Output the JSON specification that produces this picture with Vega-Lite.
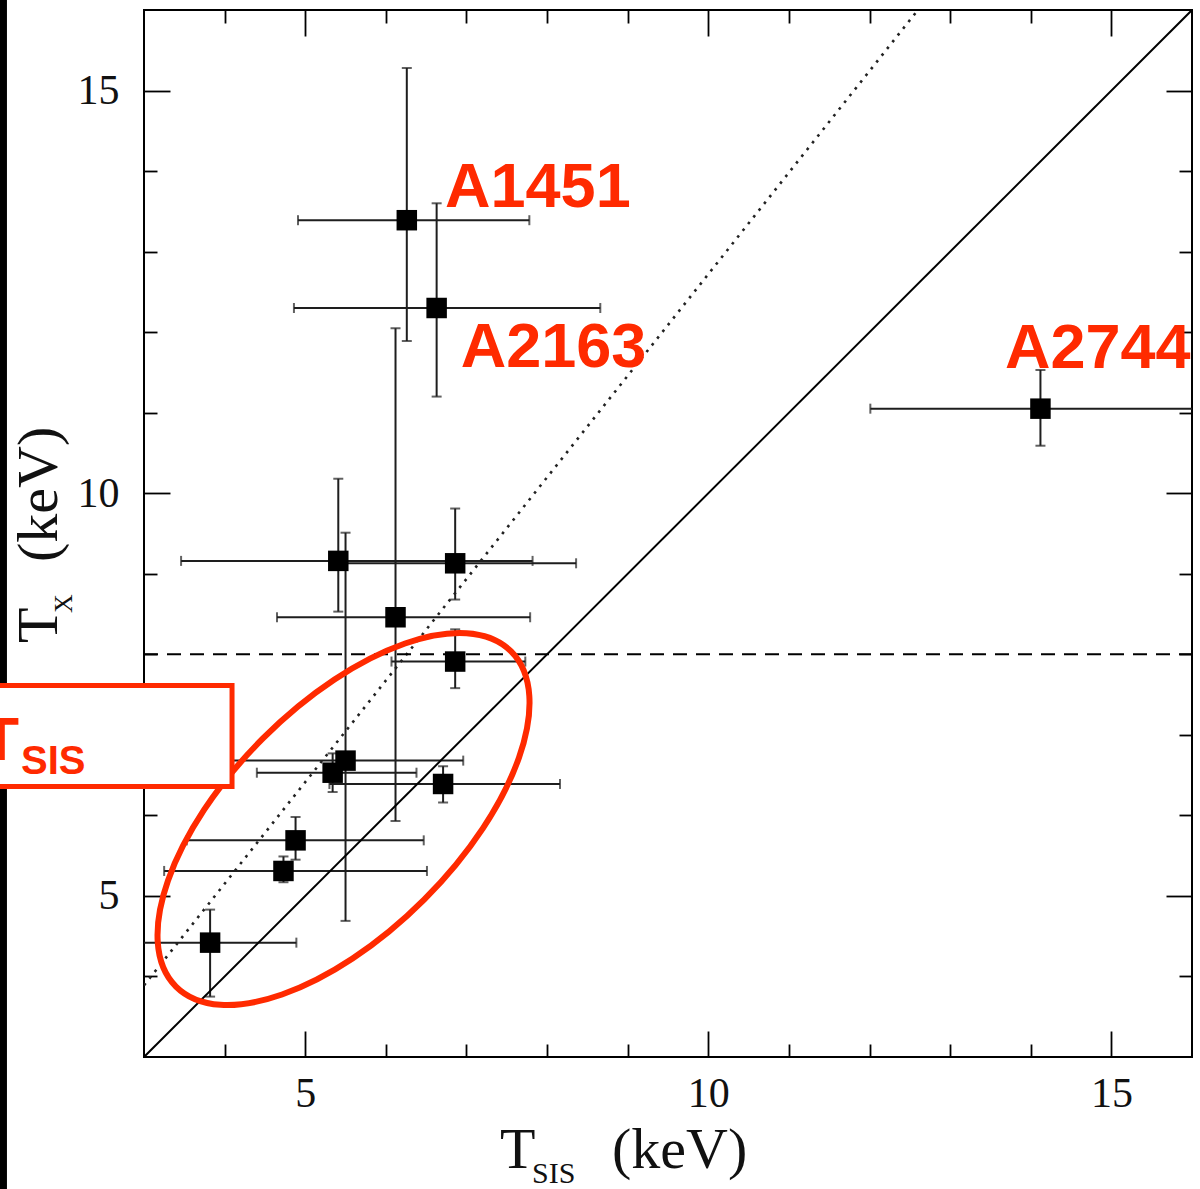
{
  "$schema": "https://vega.github.io/schema/vega-lite/v6.json",
  "width": 1048,
  "height": 1047,
  "autosize": {"type": "none"},
  "padding": {"left": 144, "top": 10, "right": 8, "bottom": 132},
  "background": "white",
  "config": {
    "view": {"stroke": "black", "strokeWidth": 2},
    "axis": {"grid": false, "domain": false, "tickColor": "black", "tickWidth": 1.8, "labelFont": "Liberation Serif", "labelFontSize": 42, "labelColor": "#111111"}
  },
  "resolve": {"axis": {"x": "independent", "y": "independent"}},
  "datasets": {
    "points": [
      {"name": "A1451", "x": 6.26, "y": 13.39, "xlo": 4.91, "xhi": 7.78, "ylo": 11.89, "yhi": 15.28},
      {"name": "A2163", "x": 6.63, "y": 12.30, "xlo": 4.86, "xhi": 8.66, "ylo": 11.20, "yhi": 13.60},
      {"name": "A2744", "x": 14.12, "y": 11.05, "xlo": 12.01, "xhi": 16.2, "ylo": 10.59, "yhi": 11.53},
      {"name": "c4", "x": 5.41, "y": 9.16, "xlo": 3.46, "xhi": 7.82, "ylo": 8.53, "yhi": 10.18},
      {"name": "c5", "x": 5.50, "y": 6.68, "xlo": 4.04, "xhi": 6.96, "ylo": 4.69, "yhi": 9.51},
      {"name": "c6", "x": 6.86, "y": 9.13, "xlo": 5.36, "xhi": 8.36, "ylo": 8.68, "yhi": 9.81},
      {"name": "c7", "x": 6.12, "y": 8.46, "xlo": 4.65, "xhi": 7.79, "ylo": 5.93, "yhi": 12.05},
      {"name": "c8", "x": 6.86, "y": 7.91, "xlo": 6.07, "xhi": 7.73, "ylo": 7.58, "yhi": 8.31},
      {"name": "c9", "x": 5.34, "y": 6.53, "xlo": 4.40, "xhi": 6.38, "ylo": 6.29, "yhi": 6.77},
      {"name": "c10", "x": 6.71, "y": 6.39, "xlo": 5.30, "xhi": 8.16, "ylo": 6.16, "yhi": 6.61},
      {"name": "c11", "x": 4.88, "y": 5.69, "xlo": 3.53, "xhi": 6.47, "ylo": 5.45, "yhi": 5.98},
      {"name": "c12", "x": 4.73, "y": 5.31, "xlo": 3.25, "xhi": 6.51, "ylo": 5.17, "yhi": 5.49},
      {"name": "c13", "x": 3.82, "y": 4.42, "xlo": 2.75, "xhi": 4.89, "ylo": 3.75, "yhi": 4.83}
    ],
    "diag": [{"x": 3, "y": 3}, {"x": 16, "y": 16}],
    "dotted": [{"x": 3, "y": 3.89}, {"x": 12.6, "y": 16}],
    "dashed": [{"x": 3, "y": 8}, {"x": 16, "y": 8}],
    "ellipse": [{"x": 5.475, "y": 5.955}],
    "box": [{"x1": 1.0, "x2": 4.092, "y1": 6.359, "y2": 7.612}],
    "bar": [{"x1": 0.5, "x2": 1.30, "y1": 0.5, "y2": 17.5}],
    "redlabels": [
      {"t": "A1451", "x": 6.734, "y": 13.554},
      {"t": "A2163", "x": 6.929, "y": 11.571},
      {"t": "A2744", "x": 13.68, "y": 11.551}
    ],
    "boxT": [{"t": "T", "x": 1.219, "y": 6.688}],
    "boxSub": [{"t": "SIS", "x": 1.474, "y": 6.514}],
    "xtitle": [{"t": "T", "x": 7.416, "y": 1.62}, {"t": "(keV)", "x": 8.805, "y": 1.62}],
    "xsub": [{"t": "SIS", "x": 7.813, "y": 1.44}],
    "ytitle": [{"t": "T", "x": 1.921, "y": 8.140}, {"t": "(keV)", "x": 1.921, "y": 9.146}],
    "ysub": [{"t": "X", "x": 2.107, "y": 8.513}]
  },
  "layer": [
    {
      "data": {"name": "points"},
      "mark": {"type": "rule", "color": "#1e1e1e", "strokeWidth": 2, "clip": true},
      "encoding": {
        "x": {"field": "xlo", "type": "quantitative", "scale": {"domain": [3, 16], "nice": false, "zero": false},
              "axis": {"orient": "bottom", "values": [5, 10, 15], "ticks": false, "labelPadding": 16, "title": null}},
        "x2": {"field": "xhi"},
        "y": {"field": "y", "type": "quantitative", "scale": {"domain": [3, 16], "nice": false, "zero": false},
              "axis": {"orient": "left", "values": [5, 10, 15], "ticks": false, "labelPadding": 25, "title": null}}
      }
    },
    {
      "data": {"name": "points"},
      "mark": {"type": "rule", "color": "#1e1e1e", "strokeWidth": 2, "clip": true},
      "encoding": {
        "x": {"field": "x", "type": "quantitative", "scale": {"domain": [3, 16], "nice": false, "zero": false},
              "axis": {"orient": "bottom", "values": [4, 6, 7, 8, 9, 11, 12, 13, 14], "labels": false, "tickSize": -13, "title": null}},
        "y": {"field": "ylo", "type": "quantitative", "scale": {"domain": [3, 16], "nice": false, "zero": false},
              "axis": {"orient": "left", "values": [4, 6, 7, 8, 9, 11, 12, 13, 14], "labels": false, "tickSize": -13, "title": null}},
        "y2": {"field": "yhi"}
      }
    },
    {
      "data": {"name": "points"},
      "transform": [{"fold": ["xlo", "xhi"], "as": ["end", "xv"]}],
      "mark": {"type": "tick", "orient": "vertical", "color": "#1e1e1e", "size": 10, "thickness": 2, "clip": true},
      "encoding": {
        "x": {"field": "xv", "type": "quantitative", "scale": {"domain": [3, 16], "nice": false, "zero": false},
              "axis": {"orient": "bottom", "values": [5, 10, 15], "labels": false, "tickSize": -26, "title": null}},
        "y": {"field": "y", "type": "quantitative", "scale": {"domain": [3, 16], "nice": false, "zero": false},
              "axis": {"orient": "left", "values": [5, 10, 15], "labels": false, "tickSize": -26, "title": null}}
      }
    },
    {
      "data": {"name": "points"},
      "transform": [{"fold": ["ylo", "yhi"], "as": ["end", "yv"]}],
      "mark": {"type": "tick", "orient": "horizontal", "color": "#1e1e1e", "size": 10, "thickness": 2, "clip": true},
      "encoding": {
        "x": {"field": "x", "type": "quantitative", "scale": {"domain": [3, 16], "nice": false, "zero": false},
              "axis": {"orient": "top", "values": [4, 6, 7, 8, 9, 11, 12, 13, 14], "labels": false, "tickSize": -13, "title": null}},
        "y": {"field": "yv", "type": "quantitative", "scale": {"domain": [3, 16], "nice": false, "zero": false},
              "axis": {"orient": "right", "values": [4, 6, 7, 8, 9, 11, 12, 13, 14], "labels": false, "tickSize": -13, "title": null}}
      }
    },
    {
      "data": {"name": "points"},
      "mark": {"type": "point", "shape": "square", "size": 420, "filled": true, "color": "black", "opacity": 1, "clip": true},
      "encoding": {
        "x": {"field": "x", "type": "quantitative", "scale": {"domain": [3, 16], "nice": false, "zero": false},
              "axis": {"orient": "top", "values": [5, 10, 15], "labels": false, "tickSize": -26, "title": null}},
        "y": {"field": "y", "type": "quantitative", "scale": {"domain": [3, 16], "nice": false, "zero": false},
              "axis": {"orient": "right", "values": [5, 10, 15], "labels": false, "tickSize": -26, "title": null}}
      }
    },
    {
      "data": {"name": "diag"},
      "mark": {"type": "line", "color": "black", "strokeWidth": 2, "clip": true},
      "encoding": {
        "x": {"field": "x", "type": "quantitative", "scale": {"domain": [3, 16], "nice": false, "zero": false}, "axis": null},
        "y": {"field": "y", "type": "quantitative", "scale": {"domain": [3, 16], "nice": false, "zero": false}, "axis": null}
      }
    },
    {
      "data": {"name": "dotted"},
      "mark": {"type": "line", "color": "#222222", "strokeWidth": 2.6, "strokeDash": [2.6, 6], "clip": true},
      "encoding": {
        "x": {"field": "x", "type": "quantitative", "scale": {"domain": [3, 16], "nice": false, "zero": false}, "axis": null},
        "y": {"field": "y", "type": "quantitative", "scale": {"domain": [3, 16], "nice": false, "zero": false}, "axis": null}
      }
    },
    {
      "data": {"name": "dashed"},
      "mark": {"type": "line", "color": "black", "strokeWidth": 2, "strokeDash": [14, 9], "clip": true},
      "encoding": {
        "x": {"field": "x", "type": "quantitative", "scale": {"domain": [3, 16], "nice": false, "zero": false}, "axis": null},
        "y": {"field": "y", "type": "quantitative", "scale": {"domain": [3, 16], "nice": false, "zero": false}, "axis": null}
      }
    },
    {
      "data": {"name": "redlabels"},
      "mark": {"type": "text", "color": "#ff2a00", "font": "Liberation Sans", "fontWeight": "bold", "fontSize": 63, "align": "left", "baseline": "alphabetic", "clip": false},
      "encoding": {
        "text": {"field": "t"},
        "x": {"field": "x", "type": "quantitative", "scale": {"domain": [3, 16], "nice": false, "zero": false}, "axis": null},
        "y": {"field": "y", "type": "quantitative", "scale": {"domain": [3, 16], "nice": false, "zero": false}, "axis": null}
      }
    },
    {
      "data": {"name": "ellipse"},
      "mark": {"type": "point", "shape": "M 1 0 C 1 0.2657 0.5523 0.481 0 0.481 C -0.5523 0.481 -1 0.2657 -1 0 C -1 -0.2657 -0.5523 -0.481 0 -0.481 C 0.5523 -0.481 1 -0.2657 1 0 Z", "size": 224676, "angle": 315, "filled": false, "stroke": "#ff2a00", "strokeWidth": 6, "opacity": 1, "clip": false},
      "encoding": {
        "x": {"field": "x", "type": "quantitative", "scale": {"domain": [3, 16], "nice": false, "zero": false}, "axis": null},
        "y": {"field": "y", "type": "quantitative", "scale": {"domain": [3, 16], "nice": false, "zero": false}, "axis": null}
      }
    },
    {
      "data": {"name": "bar"},
      "mark": {"type": "rect", "fill": "black", "clip": false},
      "encoding": {
        "x": {"field": "x1", "type": "quantitative", "scale": {"domain": [3, 16], "nice": false, "zero": false}, "axis": null},
        "x2": {"field": "x2"},
        "y": {"field": "y1", "type": "quantitative", "scale": {"domain": [3, 16], "nice": false, "zero": false}, "axis": null},
        "y2": {"field": "y2"}
      }
    },
    {
      "data": {"name": "box"},
      "mark": {"type": "rect", "fill": "white", "stroke": "#ff2a00", "strokeWidth": 5, "clip": false},
      "encoding": {
        "x": {"field": "x1", "type": "quantitative", "scale": {"domain": [3, 16], "nice": false, "zero": false}, "axis": null},
        "x2": {"field": "x2"},
        "y": {"field": "y1", "type": "quantitative", "scale": {"domain": [3, 16], "nice": false, "zero": false}, "axis": null},
        "y2": {"field": "y2"}
      }
    },
    {
      "data": {"name": "boxT"},
      "mark": {"type": "text", "color": "#ff2a00", "font": "Liberation Sans", "fontWeight": "bold", "fontSize": 61, "align": "center", "baseline": "alphabetic", "clip": false},
      "encoding": {
        "text": {"field": "t"},
        "x": {"field": "x", "type": "quantitative", "scale": {"domain": [3, 16], "nice": false, "zero": false}, "axis": null},
        "y": {"field": "y", "type": "quantitative", "scale": {"domain": [3, 16], "nice": false, "zero": false}, "axis": null}
      }
    },
    {
      "data": {"name": "boxSub"},
      "mark": {"type": "text", "color": "#ff2a00", "font": "Liberation Sans", "fontWeight": "bold", "fontSize": 40, "align": "left", "baseline": "alphabetic", "clip": false},
      "encoding": {
        "text": {"field": "t"},
        "x": {"field": "x", "type": "quantitative", "scale": {"domain": [3, 16], "nice": false, "zero": false}, "axis": null},
        "y": {"field": "y", "type": "quantitative", "scale": {"domain": [3, 16], "nice": false, "zero": false}, "axis": null}
      }
    },
    {
      "data": {"name": "xtitle"},
      "mark": {"type": "text", "color": "#111111", "font": "Liberation Serif", "fontSize": 58, "align": "left", "baseline": "alphabetic", "clip": false},
      "encoding": {
        "text": {"field": "t"},
        "x": {"field": "x", "type": "quantitative", "scale": {"domain": [3, 16], "nice": false, "zero": false}, "axis": null},
        "y": {"field": "y", "type": "quantitative", "scale": {"domain": [3, 16], "nice": false, "zero": false}, "axis": null}
      }
    },
    {
      "data": {"name": "xsub"},
      "mark": {"type": "text", "color": "#111111", "font": "Liberation Serif", "fontSize": 30, "align": "left", "baseline": "alphabetic", "clip": false},
      "encoding": {
        "text": {"field": "t"},
        "x": {"field": "x", "type": "quantitative", "scale": {"domain": [3, 16], "nice": false, "zero": false}, "axis": null},
        "y": {"field": "y", "type": "quantitative", "scale": {"domain": [3, 16], "nice": false, "zero": false}, "axis": null}
      }
    },
    {
      "data": {"name": "ytitle"},
      "mark": {"type": "text", "color": "#111111", "font": "Liberation Serif", "fontSize": 58, "angle": 270, "align": "left", "baseline": "alphabetic", "clip": false},
      "encoding": {
        "text": {"field": "t"},
        "x": {"field": "x", "type": "quantitative", "scale": {"domain": [3, 16], "nice": false, "zero": false}, "axis": null},
        "y": {"field": "y", "type": "quantitative", "scale": {"domain": [3, 16], "nice": false, "zero": false}, "axis": null}
      }
    },
    {
      "data": {"name": "ysub"},
      "mark": {"type": "text", "color": "#111111", "font": "Liberation Serif", "fontSize": 26, "angle": 270, "align": "left", "baseline": "alphabetic", "clip": false},
      "encoding": {
        "text": {"field": "t"},
        "x": {"field": "x", "type": "quantitative", "scale": {"domain": [3, 16], "nice": false, "zero": false}, "axis": null},
        "y": {"field": "y", "type": "quantitative", "scale": {"domain": [3, 16], "nice": false, "zero": false}, "axis": null}
      }
    }
  ]
}
